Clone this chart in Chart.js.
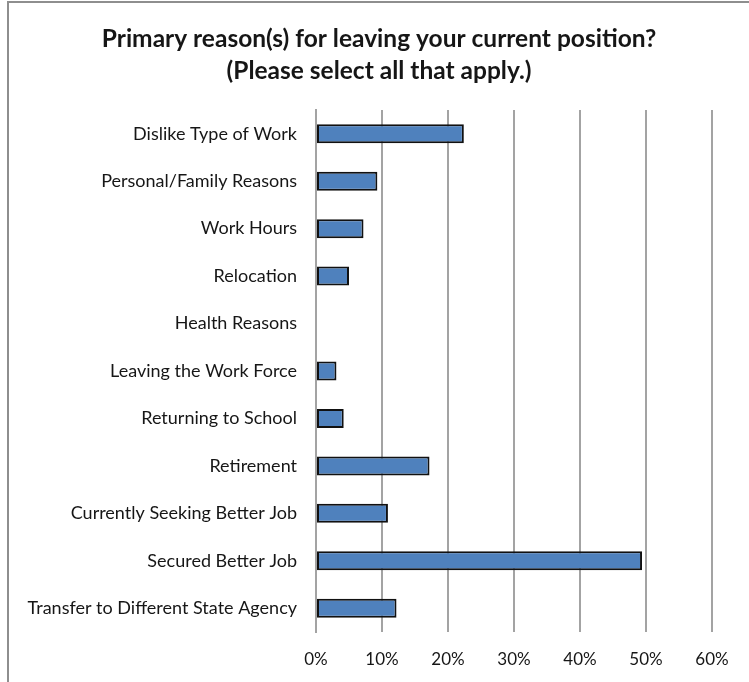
<!DOCTYPE html>
<html>
<head>
<meta charset="utf-8">
<script src="https://cdn.jsdelivr.net/npm/chart.js@4/dist/chart.umd.min.js"></script>
<style>
  html, body { margin: 0; padding: 0; background: #ffffff; }
  #wrap { width: 749px; height: 682px; position: relative; }
</style>
</head>
<body>
<div id="wrap"><canvas id="chart" width="749" height="682"></canvas></div>
<script>
// Survey question and answer categories
const titleLines = [
  "Primary reason(s) for leaving your current position?",
  "(Please select all that apply.)"
];
const reasons = [
  "Dislike Type of Work",
  "Personal/Family Reasons",
  "Work Hours",
  "Relocation",
  "Health Reasons",
  "Leaving the Work Force",
  "Returning to School",
  "Retirement",
  "Currently Seeking Better Job",
  "Secured Better Job",
  "Transfer to Different State Agency"
];
// Share of respondents selecting each reason (percent)
const shares = [22.4, 9.3, 7.2, 5.0, 0, 3.1, 4.2, 17.2, 10.9, 49.4, 12.2];
// Axis ticks (percent)
const axisMin = 0;
const axisMax = 60;
const axisStep = 10;

const FONT = "Lato, 'Open Sans', sans-serif";

// Frame around the whole chart and the two-line heading
const framePlugin = {
  id: 'frameAndHeading',
  beforeDraw(chart) {
    const ctx = chart.ctx;
    ctx.save();
    ctx.fillStyle = '#ffffff';
    ctx.fillRect(0, 0, chart.width, chart.height);
    ctx.strokeStyle = '#8e8e8e';
    ctx.lineWidth = 2;
    ctx.strokeRect(8, 2, chart.width + 20, chart.height + 20);
    ctx.restore();
  },
  afterDraw(chart) {
    const ctx = chart.ctx;
    ctx.save();
    ctx.fillStyle = '#161616';
    ctx.font = "bold 24.5px " + FONT;
    ctx.textAlign = 'center';
    ctx.textBaseline = 'middle';
    titleLines.forEach((line, i) => {
      ctx.fillText(line, 379, 39 + i * 32);
    });
    ctx.restore();
  }
};

new Chart(document.getElementById('chart'), {
  type: 'bar',
  data: {
    labels: reasons,
    datasets: [{
      data: shares,
      backgroundColor: '#4f81bd',
      borderColor: '#111111',
      borderWidth: 2,
      borderSkipped: false,
      barPercentage: 0.4,
      categoryPercentage: 1.0
    }]
  },
  options: {
    indexAxis: 'y',
    responsive: false,
    animation: false,
    devicePixelRatio: 1,
    layout: { padding: { top: 110, right: 37, bottom: 0, left: 0 } },
    plugins: {
      legend: { display: false },
      title: { display: false },
      tooltip: { enabled: false }
    },
    scales: {
      x: {
        min: axisMin,
        max: axisMax,
        ticks: {
          stepSize: axisStep,
          callback: v => v + '%',
          color: '#161616',
          font: { family: FONT, size: 17 },
          padding: 17,
          maxRotation: 0
        },
        grid: { color: '#a3a3a3', lineWidth: 2, drawTicks: false },
        border: { display: false },
        afterFit(scale) { scale.height = 50; }
      },
      y: {
        ticks: {
          color: '#161616',
          font: { family: FONT, size: 18 },
          padding: 19
        },
        grid: { display: false, drawTicks: false },
        border: { color: '#a3a3a3', width: 2 },
        afterFit(scale) { scale.width = 316; }
      }
    }
  },
  plugins: [framePlugin]
});
</script>
</body>
</html>
